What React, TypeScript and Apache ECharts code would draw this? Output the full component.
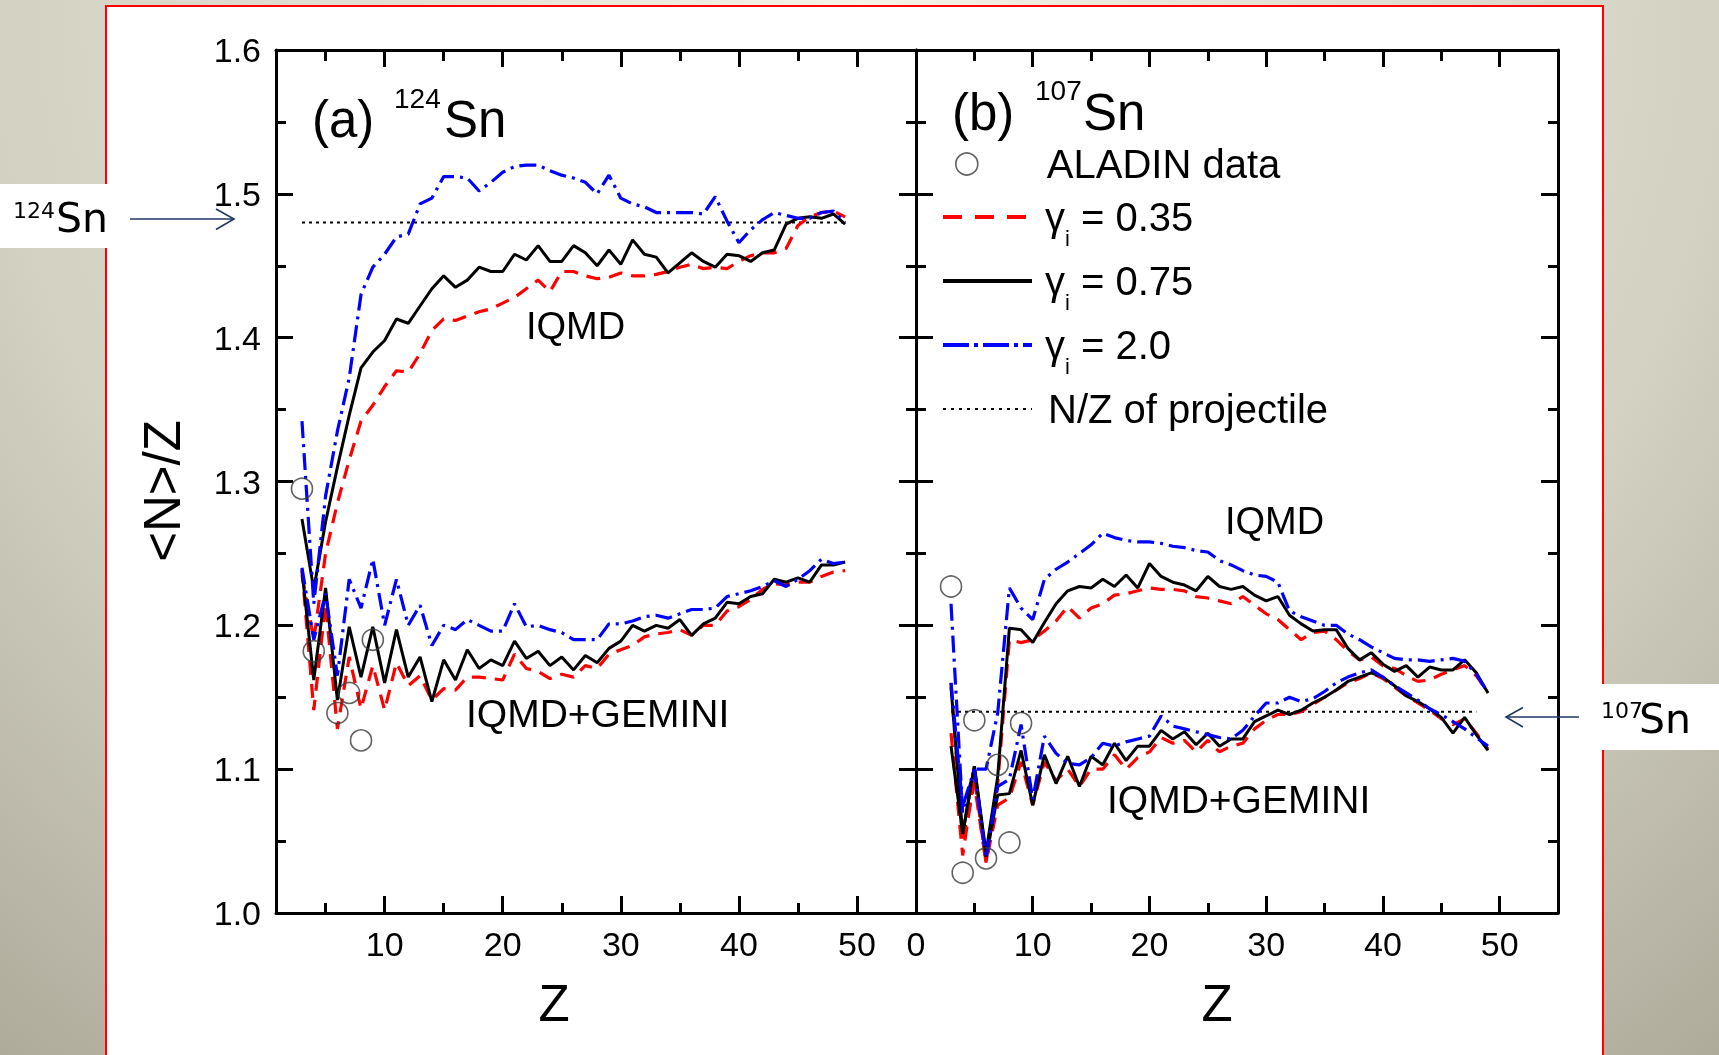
import React, { useEffect, useRef } from 'react';
import * as echarts from 'echarts';

// ---------------- data ----------------
const Z_VALUES = [3, 4, 5, 6, 7, 8, 9, 10, 11, 12, 13, 14, 15, 16, 17, 18, 19, 20, 21, 22, 23, 24, 25, 26, 27, 28, 29, 30, 31, 32, 33, 34, 35, 36, 37, 38, 39, 40, 41, 42, 43, 44, 45, 46, 47, 48, 49];

// (a) 124Sn, IQMD
const A_IQMD_035 = [1.235, 1.19, 1.25, 1.285, 1.315, 1.342, 1.353, 1.366, 1.377, 1.376, 1.389, 1.405, 1.413, 1.412, 1.415, 1.418, 1.42, 1.424, 1.428, 1.434, 1.44, 1.432, 1.446, 1.446, 1.443, 1.441, 1.442, 1.445, 1.443, 1.443, 1.444, 1.446, 1.449, 1.451, 1.448, 1.449, 1.448, 1.453, 1.457, 1.459, 1.459, 1.462, 1.478, 1.484, 1.487, 1.488, 1.484];
const A_IQMD_075 = [1.274, 1.225, 1.272, 1.31, 1.346, 1.379, 1.39, 1.398, 1.413, 1.41, 1.422, 1.434, 1.443, 1.435, 1.44, 1.449, 1.446, 1.446, 1.458, 1.454, 1.464, 1.453, 1.453, 1.464, 1.459, 1.45, 1.461, 1.451, 1.468, 1.458, 1.456, 1.445, 1.452, 1.459, 1.453, 1.449, 1.458, 1.457, 1.453, 1.459, 1.461, 1.479, 1.483, 1.484, 1.483, 1.486, 1.479];
const A_IQMD_20 = [1.342, 1.215, 1.29, 1.335, 1.372, 1.43, 1.449, 1.458, 1.47, 1.472, 1.493, 1.497, 1.512, 1.512, 1.511, 1.502, 1.508, 1.515, 1.519, 1.52, 1.52, 1.516, 1.513, 1.511, 1.508, 1.5, 1.513, 1.497, 1.493, 1.491, 1.487, 1.487, 1.487, 1.487, 1.486, 1.498, 1.481, 1.466, 1.475, 1.482, 1.487, 1.485, 1.483, 1.483, 1.487, 1.488, 1.48];
// (a) 124Sn, IQMD+GEMINI
const A_GEM_035 = [1.239, 1.141, 1.215, 1.128, 1.178, 1.142, 1.172, 1.141, 1.174, 1.158, 1.165, 1.148, 1.156, 1.155, 1.164, 1.164, 1.163, 1.162, 1.18, 1.17, 1.168, 1.163, 1.166, 1.164, 1.172, 1.17, 1.18, 1.183, 1.186, 1.192, 1.194, 1.195, 1.197, 1.193, 1.2, 1.2, 1.21, 1.213, 1.218, 1.225, 1.229, 1.228, 1.23, 1.23, 1.234, 1.237, 1.238];
const A_GEM_075 = [1.238, 1.162, 1.226, 1.148, 1.199, 1.164, 1.199, 1.16, 1.197, 1.164, 1.178, 1.147, 1.176, 1.162, 1.183, 1.17, 1.176, 1.172, 1.189, 1.177, 1.182, 1.172, 1.178, 1.169, 1.179, 1.174, 1.184, 1.189, 1.2, 1.196, 1.2, 1.198, 1.204, 1.193, 1.201, 1.205, 1.216, 1.215, 1.22, 1.222, 1.232, 1.23, 1.233, 1.23, 1.242, 1.242, 1.244];
const A_GEM_20 = [1.24, 1.19, 1.222, 1.165, 1.232, 1.212, 1.246, 1.2, 1.232, 1.2, 1.214, 1.186, 1.2, 1.197, 1.204, 1.2, 1.196, 1.196, 1.215, 1.199, 1.2, 1.197, 1.195, 1.19, 1.19, 1.19, 1.201, 1.201, 1.203, 1.206, 1.207, 1.205, 1.208, 1.211, 1.211, 1.212, 1.22, 1.222, 1.224, 1.227, 1.231, 1.227, 1.232, 1.238, 1.246, 1.243, 1.244];
// (a) ALADIN data
const A_ALADIN_Z = [3, 4, 6, 7, 8, 9];
const A_ALADIN_NZ = [1.295, 1.182, 1.139, 1.153, 1.12, 1.19];
// (a) projectile N/Z
const A_PROJ_NZ = 1.48;
const A_PROJ_Z = [3, 49];

// (b) 107Sn, IQMD
const B_IQMD_035 = [1.16, 1.05, 1.09, 1.035, 1.09, 1.19, 1.188, 1.19, 1.196, 1.203, 1.213, 1.205, 1.212, 1.215, 1.221, 1.222, 1.224, 1.226, 1.225, 1.225, 1.224, 1.22, 1.219, 1.217, 1.215, 1.22, 1.214, 1.208, 1.204, 1.197, 1.19, 1.195, 1.196, 1.19, 1.182, 1.176, 1.178, 1.172, 1.17, 1.165, 1.161, 1.162, 1.166, 1.169, 1.172, 1.165, 1.153];
const B_IQMD_075 = [1.157, 1.055, 1.102, 1.042, 1.095, 1.198, 1.197, 1.188, 1.202, 1.215, 1.224, 1.227, 1.226, 1.232, 1.227, 1.235, 1.226, 1.243, 1.234, 1.23, 1.228, 1.224, 1.234, 1.227, 1.225, 1.227, 1.221, 1.217, 1.22, 1.207, 1.201, 1.196, 1.197, 1.197, 1.184, 1.176, 1.181, 1.173, 1.168, 1.172, 1.164, 1.171, 1.169, 1.169, 1.176, 1.167, 1.153];
const B_IQMD_20 = [1.215, 1.07, 1.1, 1.1, 1.139, 1.226, 1.212, 1.204, 1.232, 1.239, 1.244, 1.25, 1.256, 1.264, 1.261, 1.259, 1.258, 1.258, 1.257, 1.255, 1.254, 1.252, 1.251, 1.245, 1.242, 1.238, 1.235, 1.234, 1.23, 1.21, 1.206, 1.203, 1.2, 1.2, 1.194, 1.19, 1.185, 1.181, 1.177, 1.176, 1.176, 1.175, 1.176, 1.177, 1.175, 1.166, 1.153];
// (b) 107Sn, IQMD+GEMINI
const B_GEM_035 = [1.125, 1.04, 1.095, 1.035, 1.075, 1.08, 1.105, 1.075, 1.105, 1.092, 1.1, 1.088, 1.1, 1.1, 1.11, 1.1, 1.108, 1.112, 1.122, 1.118, 1.12, 1.112, 1.12, 1.112, 1.116, 1.118, 1.128, 1.134, 1.138, 1.138, 1.14, 1.145, 1.15, 1.155, 1.16, 1.163, 1.167, 1.163, 1.157, 1.151, 1.146, 1.141, 1.135, 1.131, 1.135, 1.125, 1.114];
const B_GEM_075 = [1.116, 1.055, 1.102, 1.039, 1.082, 1.083, 1.113, 1.075, 1.11, 1.09, 1.109, 1.088, 1.109, 1.103, 1.118, 1.106, 1.116, 1.116, 1.127, 1.121, 1.126, 1.117, 1.125, 1.116, 1.121, 1.121, 1.133, 1.137, 1.141, 1.138, 1.141, 1.146, 1.15, 1.155, 1.161, 1.164, 1.167, 1.164, 1.158, 1.151, 1.147, 1.142, 1.136, 1.125, 1.136, 1.124, 1.113];
const B_GEM_20 = [1.16, 1.074, 1.1, 1.038, 1.088, 1.093, 1.131, 1.079, 1.123, 1.111, 1.104, 1.103, 1.108, 1.118, 1.116, 1.119, 1.121, 1.123, 1.137, 1.13, 1.128, 1.126, 1.124, 1.122, 1.121, 1.127, 1.137, 1.146, 1.146, 1.15, 1.147, 1.149, 1.154, 1.16, 1.164, 1.167, 1.169, 1.164, 1.158, 1.153, 1.148, 1.142, 1.138, 1.133, 1.128, 1.122, 1.116];
// (b) ALADIN data
const B_ALADIN_Z = [3, 4, 5, 6, 7, 8, 9];
const B_ALADIN_NZ = [1.227, 1.028, 1.134, 1.038, 1.103, 1.049, 1.132];
// (b) projectile N/Z
const B_PROJ_NZ = 1.14;
const B_PROJ_Z = [3, 48];

// axes
const Y_MIN = 1.0;
const Y_MAX = 1.6;
const Y_STEP = 0.1;
const A_X_RANGE = [0.8, 55];
const B_X_RANGE = [0, 55];
const A_X_LABELS = [10, 20, 30, 40, 50];
const B_X_LABELS = [0, 10, 20, 30, 40, 50];
const X_MAJOR = [10, 20, 30, 40, 50];
const X_MINOR = [5, 15, 25, 35, 45];

// ---------------- styling ----------------
const FONT = '"Liberation Sans", Arial, Helvetica, sans-serif';
const FONT2 = '"DejaVu Sans", Verdana, sans-serif';
const RED = '#ff0000';
const BLUE = '#0000ff';
const BLACK = '#000000';
const DASH = [14, 9];
const DASHDOT = [17, 6, 3, 6];
const DOT = [3, 4];
const NAVY = '#1f3864';
const HIDDEN_SYMBOL = { color: 'rgba(0,0,0,0)', borderWidth: 0, opacity: 0 };

const pairs = (xs: number[], ys: number[]) => xs.map((x, i) => [x, ys[i]]);

const axisLine = { show: true, onZero: false, lineStyle: { color: BLACK, width: 3 } };
const tickLine = { color: BLACK, width: 3 };

function xAxesFor(gi: number, range: number[], labels: number[]) {
  const base = { type: 'value', gridIndex: gi, min: range[0], max: range[1], splitLine: { show: false } };
  return [
    {
      ...base, position: 'bottom', axisLine,
      axisTick: { show: true, inside: true, length: 17, customValues: X_MAJOR, lineStyle: tickLine },
      axisLabel: { show: true, customValues: labels, fontSize: 34, fontFamily: FONT, color: BLACK, margin: 14 },
    },
    {
      ...base, position: 'bottom', axisLine: { show: false },
      axisTick: { show: true, inside: true, length: 10, customValues: X_MINOR, lineStyle: tickLine },
      axisLabel: { show: false },
    },
    {
      ...base, position: 'top', axisLine,
      axisTick: { show: true, inside: true, length: 17, customValues: X_MAJOR, lineStyle: tickLine },
      axisLabel: { show: false },
    },
    {
      ...base, position: 'top', axisLine: { show: false },
      axisTick: { show: true, inside: true, length: 11, customValues: X_MINOR, lineStyle: tickLine },
      axisLabel: { show: false },
    },
  ];
}

function yAxisFor(gi: number, position: string, labels: boolean) {
  return {
    type: 'value', gridIndex: gi, position, min: Y_MIN, max: Y_MAX, interval: Y_STEP,
    axisLine,
    axisTick: { show: true, inside: true, length: 17, lineStyle: tickLine },
    minorTick: { show: true, splitNumber: 2, length: 10, lineStyle: tickLine },
    axisLabel: {
      show: labels, fontSize: 34, fontFamily: FONT, color: BLACK, margin: 15,
      formatter: (v: number) => v.toFixed(1),
    },
    splitLine: { show: false },
    minorSplitLine: { show: false },
  };
}

function line(name: string, gi: number, ys: number[], color: string, type: any, width: number) {
  return {
    type: 'line', name, xAxisIndex: gi * 4, yAxisIndex: gi * 2,
    data: pairs(Z_VALUES, ys), symbol: 'none', showSymbol: false, silent: true,
    lineStyle: { color, width, type }, itemStyle: { color }, z: 3,
  };
}

function projLine(gi: number, zs: number[], v: number) {
  return {
    type: 'line', name: 'nz', xAxisIndex: gi * 4, yAxisIndex: gi * 2,
    data: zs.map((z) => [z, v]), symbol: 'none', showSymbol: false, silent: true,
    lineStyle: { color: BLACK, width: 2, type: DOT }, itemStyle: { color: BLACK }, z: 2,
  };
}

function aladin(gi: number, zs: number[], vs: number[]) {
  return {
    type: 'scatter', name: 'ALADIN data', xAxisIndex: gi * 4, yAxisIndex: gi * 2,
    data: pairs(zs, vs), symbol: 'circle', symbolSize: 21, silent: true,
    itemStyle: { color: 'rgba(0,0,0,0)', borderColor: '#3a3a3a', borderWidth: 1.6 }, z: 4,
  };
}

const LEGEND_TEXT: Record<string, string> = {
  g035: '{g|γ}{s|i}{t| = 0.35}',
  g075: '{g|γ}{s|i}{t| = 0.75}',
  g20: '{g|γ}{s|i}{t| = 2.0}',
  nz: '{n|N/Z of projectile}{s| }',
};

function txt(text: string, x: number, y: number, fontSize: number, family = FONT) {
  return {
    type: 'text', x, y, z: 20, silent: true,
    style: { text, fontSize, fontFamily: family, fill: BLACK, align: 'left', verticalAlign: 'middle' },
  };
}

export default function App() {
  const ref = useRef<HTMLDivElement>(null);
  useEffect(() => {
    if (!ref.current) return;
    const chart = echarts.init(ref.current, null, { renderer: 'svg', width: 1719, height: 1055 });
    const bg = new echarts.graphic.RadialGradient(860, 0, 1400, [
      { offset: 0, color: '#f4f3e7' },
      { offset: 0.62, color: '#d3d1c2' },
      { offset: 0.75, color: '#c5c3b4' },
      { offset: 1, color: '#aba898' },
    ], true);
    const option: any = {
      animation: false,
      grid: [
        { left: 276, top: 50, width: 640, height: 863 },
        { left: 916, top: 50, width: 642, height: 863 },
      ],
      xAxis: [...xAxesFor(0, A_X_RANGE, A_X_LABELS), ...xAxesFor(1, B_X_RANGE, B_X_LABELS)],
      yAxis: [yAxisFor(0, 'left', true), yAxisFor(0, 'right', false), yAxisFor(1, 'left', false), yAxisFor(1, 'right', false)],
      legend: [
        {
          data: [{ name: 'ALADIN data', icon: 'circle', itemStyle: { color: 'rgba(0,0,0,0)', borderColor: '#3a3a3a', borderWidth: 1.6 } }],
          left: 955, top: 144, orient: 'vertical', itemWidth: 50, itemHeight: 22, padding: 0, selectedMode: false,
          formatter: (name: string) => '{a|' + name + '}',
          textStyle: { rich: { a: { fontSize: 40, fontFamily: FONT, color: BLACK, lineHeight: 40, padding: [0, 0, 0, 50] } } },
        },
        {
          data: [
            { name: 'g035', lineStyle: { color: RED, width: 4, type: [19, 13] }, itemStyle: HIDDEN_SYMBOL },
            { name: 'g075', lineStyle: { color: BLACK, width: 4, type: 'solid' }, itemStyle: HIDDEN_SYMBOL },
            { name: 'g20', lineStyle: { color: BLUE, width: 4, type: [26, 5, 4, 5] }, itemStyle: HIDDEN_SYMBOL },
            { name: 'nz', lineStyle: { color: BLACK, width: 2, type: [3, 5] }, itemStyle: HIDDEN_SYMBOL },
          ],
          left: 941, top: 185, orient: 'vertical', itemWidth: 89, itemHeight: 14, itemGap: 0, padding: 0, selectedMode: false,
          formatter: (name: string) => LEGEND_TEXT[name],
          textStyle: {
            rich: {
              g: { fontSize: 40, fontFamily: FONT, color: BLACK, lineHeight: 40, padding: [11, 0, 11, 8] },
              s: { fontSize: 22, fontFamily: FONT, color: BLACK, lineHeight: 20, padding: [42, 0, 0, 0] },
              t: { fontSize: 40, fontFamily: FONT, color: BLACK, lineHeight: 40, padding: [11, 0, 11, 0] },
              n: { fontSize: 40, fontFamily: FONT, color: BLACK, lineHeight: 40, padding: [11, 0, 11, 11] },
            },
          },
        },
      ],
      series: [
        projLine(0, A_PROJ_Z, A_PROJ_NZ),
        line('g035', 0, A_IQMD_035, RED, DASH, 3.2),
        line('g075', 0, A_IQMD_075, BLACK, 'solid', 3),
        line('g20', 0, A_IQMD_20, BLUE, DASHDOT, 3.2),
        line('g035', 0, A_GEM_035, RED, DASH, 3.2),
        line('g075', 0, A_GEM_075, BLACK, 'solid', 3),
        line('g20', 0, A_GEM_20, BLUE, DASHDOT, 3.2),
        aladin(0, A_ALADIN_Z, A_ALADIN_NZ),
        projLine(1, B_PROJ_Z, B_PROJ_NZ),
        line('g035', 1, B_IQMD_035, RED, DASH, 3.2),
        line('g075', 1, B_IQMD_075, BLACK, 'solid', 3),
        line('g20', 1, B_IQMD_20, BLUE, DASHDOT, 3.2),
        line('g035', 1, B_GEM_035, RED, DASH, 3.2),
        line('g075', 1, B_GEM_075, BLACK, 'solid', 3),
        line('g20', 1, B_GEM_20, BLUE, DASHDOT, 3.2),
        aladin(1, B_ALADIN_Z, B_ALADIN_NZ),
      ],
      graphic: [
        { type: 'rect', z: -20, silent: true, shape: { x: 0, y: 0, width: 1719, height: 1055 }, style: { fill: bg } },
        { type: 'rect', z: -19, silent: true, shape: { x: 106, y: 6, width: 1497, height: 1070 }, style: { fill: '#ffffff', stroke: '#ff0000', lineWidth: 2 } },
        // label boxes
        { type: 'rect', z: 15, silent: true, shape: { x: 0, y: 184, width: 107, height: 64 }, style: { fill: '#ffffff' } },
        { type: 'rect', z: 15, silent: true, shape: { x: 1602, y: 684, width: 117, height: 66 }, style: { fill: '#ffffff' } },
        txt('124', 13, 210, 22, FONT2),
        txt('Sn', 56, 218, 41, FONT2),
        txt('107', 1601, 710, 22, FONT2),
        txt('Sn', 1639, 719, 41, FONT2),
        // arrows
        { type: 'line', z: 15, silent: true, shape: { x1: 130, y1: 219, x2: 233, y2: 219 }, style: { stroke: NAVY, lineWidth: 1.6 } },
        { type: 'polyline', z: 15, silent: true, shape: { points: [[216, 209], [234, 219], [216, 229.5]] }, style: { stroke: NAVY, lineWidth: 1.6, fill: null } },
        { type: 'line', z: 15, silent: true, shape: { x1: 1507, y1: 717, x2: 1579, y2: 717 }, style: { stroke: NAVY, lineWidth: 1.6 } },
        { type: 'polyline', z: 15, silent: true, shape: { points: [[1523, 707.5], [1506, 717], [1523, 727]] }, style: { stroke: NAVY, lineWidth: 1.6, fill: null } },
        // panel titles
        txt('(a)', 312, 119, 51),
        txt('124', 394, 98, 28),
        txt('Sn', 444, 119, 51),
        txt('(b)', 952, 112, 51),
        txt('107', 1035, 90, 28),
        txt('Sn', 1083, 112, 51),
        // annotations
        txt('IQMD', 526, 326, 38),
        txt('IQMD+GEMINI', 466, 713, 39),
        txt('IQMD', 1225, 521, 38),
        txt('IQMD+GEMINI', 1107, 799, 39),
        // axis titles
        { type: 'text', z: 20, silent: true, x: 554, y: 1003, style: { text: 'Z', fontSize: 51, fontFamily: FONT, fill: BLACK, align: 'center', verticalAlign: 'middle' } },
        { type: 'text', z: 20, silent: true, x: 1217, y: 1003, style: { text: 'Z', fontSize: 51, fontFamily: FONT, fill: BLACK, align: 'center', verticalAlign: 'middle' } },
        { type: 'text', z: 20, silent: true, x: 162, y: 491, rotation: Math.PI / 2, style: { text: '<N>/Z', fontSize: 51, fontFamily: FONT, fill: BLACK, align: 'center', verticalAlign: 'middle' } },
      ],
    };
    chart.setOption(option);
    return () => chart.dispose();
  }, []);
  return <div ref={ref} style={{ position: 'fixed', left: 0, top: 0, width: 1719, height: 1055 }} />;
}
